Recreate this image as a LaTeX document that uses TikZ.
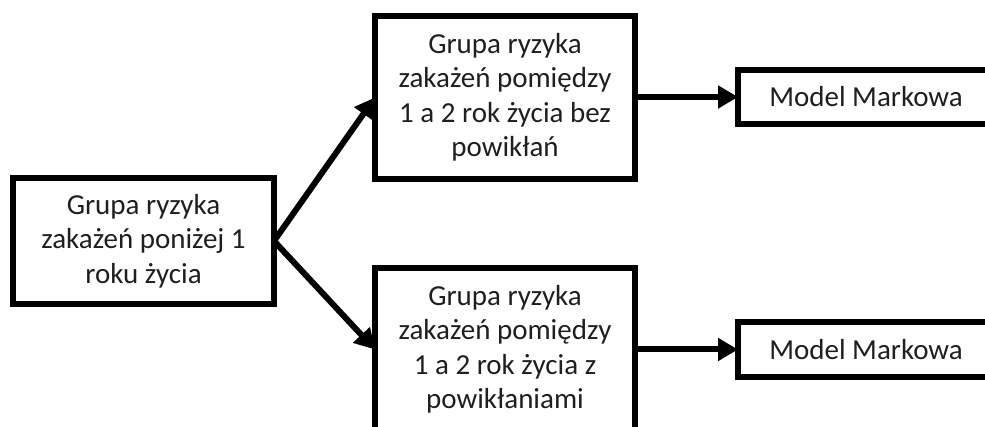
\documentclass[tikz,border=0pt]{standalone}
\usepackage{fontspec}
\setmainfont{Carlito}
\usetikzlibrary{arrows.meta}

\tikzset{
  box/.style={draw=black, line width=6pt, fill=white, inner sep=0pt, outer sep=0pt,
    align=center, text=black!88, font=\fontsize{29}{34.5}\selectfont},
  link/.style={line width=6pt, -{Triangle[length=20pt,width=22pt]}}
}

\begin{document}
\begin{tikzpicture}[x=1pt, y=-1pt]
  \useasboundingbox (0,0) rectangle (985,427);
  \clip (0,0) rectangle (985,427);

  % source group
  \node[box, minimum width=261pt, minimum height=126pt] (src) at (143.5,241)
    {Grupa ryzyka\\zakażeń poniżej 1\\roku życia};

  % groups for the second year of life
  \node[box, minimum width=260pt, minimum height=163pt] (nocomp) at (505,97.5)
    {Grupa ryzyka\\zakażeń pomiędzy\\1 a 2 rok życia bez\\powikłań};
  \node[box, minimum width=260pt, minimum height=163pt] (comp) at (505,349.5)
    {Grupa ryzyka\\zakażeń pomiędzy\\1 a 2 rok życia z\\powikłaniami};

  % Markov models
  \node[box, minimum width=256pt, minimum height=54pt] (mA) at (866,97)
    {Model Markowa};
  \node[box, minimum width=256pt, minimum height=55pt] (mB) at (866,349.5)
    {Model Markowa};

  % connectors
  \draw[link] (src.east) -- (nocomp.west);
  \draw[link] (src.east) -- (comp.west);
  \draw[link] (nocomp.east |- mA.west) -- (mA.west);
  \draw[link] (comp.east |- mB.west) -- (mB.west);
\end{tikzpicture}
\end{document}
